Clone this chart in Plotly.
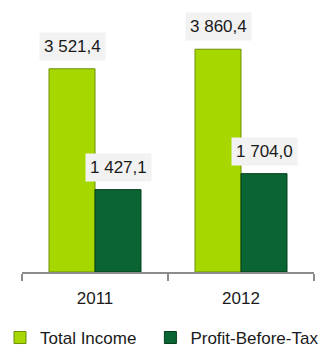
import plotly.graph_objects as go

years = ["2011", "2012"]
total_income = [3521.4, 3860.4]
profit_before_tax = [1427.1, 1704.0]

FONT = "Liberation Sans, Arial, sans-serif"

def fmt(v):
    s = f"{v:,.1f}"
    return s.replace(",", " ").replace(".", ",")

fig = go.Figure()
fig.add_trace(go.Bar(x=years, y=total_income, name="Total Income", legend="legend",
                     marker=dict(color="#a6d800", line=dict(color="#6f8f00", width=1))))
fig.add_trace(go.Bar(x=years, y=profit_before_tax, name="Profit-Before-Tax", legend="legend2",
                     marker=dict(color="#0b6433", line=dict(color="#033d1b", width=1))))

half = 0.1575
for i, yr in enumerate(years):
    for off, vals in ((-half, total_income), (half, profit_before_tax)):
        fig.add_annotation(x=i + off, y=vals[i], text=fmt(vals[i]), showarrow=False,
                           yanchor="bottom", yshift=8, bgcolor="#f2f2f2", borderpad=4,
                           font=dict(family=FONT, size=17, color="#1a1a1a"))

leg_common = dict(orientation="h", xanchor="left", yref="container", xref="container",
                  y=0.026, yanchor="middle", bgcolor="rgba(0,0,0,0)",
                  font=dict(family=FONT, size=17, color="#1a1a1a"))

fig.update_layout(
    width=320, height=347,
    margin=dict(l=22, r=6, t=10, b=75, autoexpand=False),
    barmode="group", bargap=0.37, bargroupgap=0,
    plot_bgcolor="white", paper_bgcolor="white",
    font=dict(family=FONT, size=17, color="#1a1a1a"),
    showlegend=True,
    legend=dict(x=0.0, **leg_common),
    legend2=dict(x=0.47, **leg_common),
    xaxis=dict(showline=True, linecolor="#8c8c8c", linewidth=2, ticks="outside",
               tickson="boundaries", ticklen=7, tickcolor="#8c8c8c", tickwidth=2,
               ticklabelstandoff=10,
               showgrid=False, range=[-0.5, 1.5]),
    yaxis=dict(visible=False, range=[0, 4540], showgrid=False),
)
fig.write_html("out.html")
